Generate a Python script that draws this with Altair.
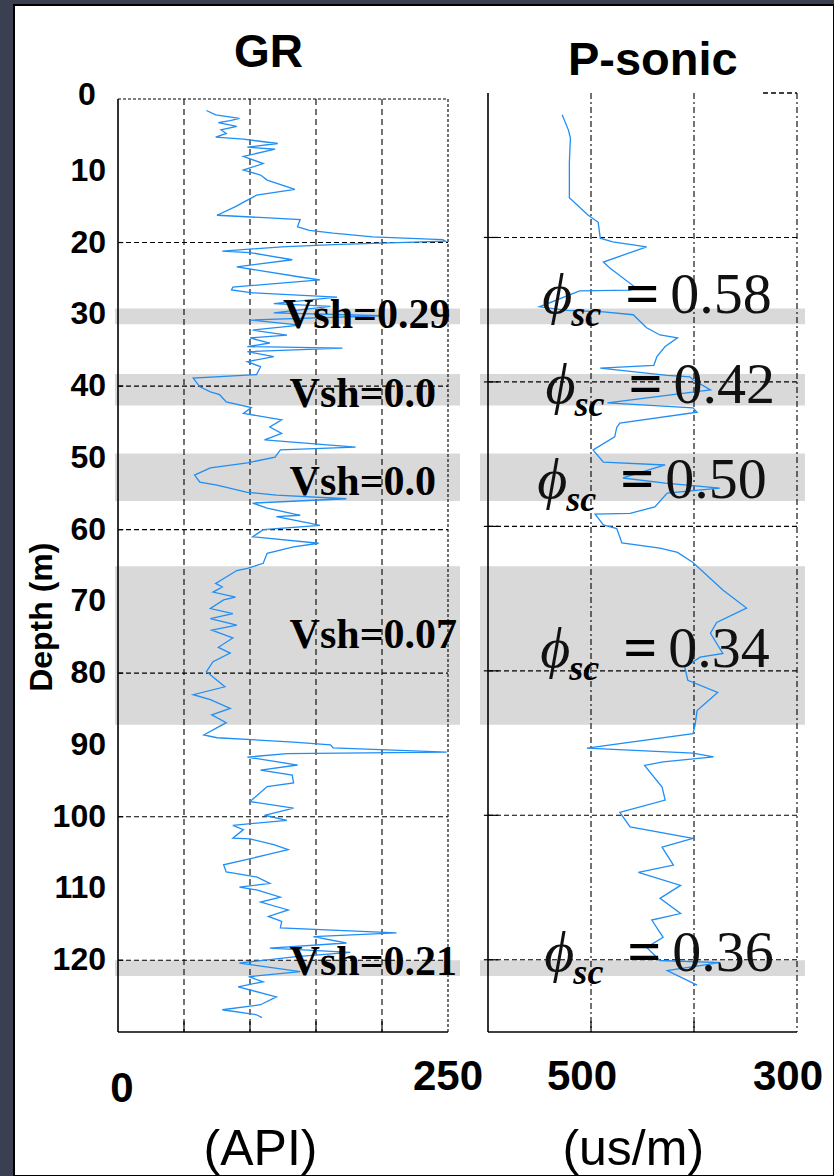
import altair as alt
import pandas as pd

# ---------------- data ----------------
gr_depth = [1.6, 2.2, 2.7, 3.0, 3.3, 3.8, 4.3, 4.8, 5.3, 5.6, 6.2, 6.7, 7.0, 8.0, 9.0, 9.9,
            10.6, 11.3, 12.6, 13.4, 14.1, 15.0, 16.2, 16.6, 16.8, 17.8, 18.3, 18.7, 19.2,
            19.6, 19.8, 20.3, 20.6, 21.2, 21.4, 22.4, 23.4, 24.8, 25.2, 26.2, 26.6, 27.0,
            27.6, 28.5, 28.9, 29.8, 30.2, 30.8, 31.5, 32.2, 32.9, 33.3, 34.0, 34.5, 34.7,
            35.2, 35.9, 36.6, 37.3, 38.4, 38.9, 40.1, 40.8, 41.2, 42.2, 43.0, 43.8, 44.7,
            45.7, 46.6, 47.5, 48.5, 48.9, 49.9, 50.7, 51.4, 52.4, 53.4, 53.8, 54.8, 55.2,
            55.7, 56.3, 57.0, 58.0, 58.2, 59.1, 59.4, 60.0, 61.0, 61.9, 62.4, 63.3, 64.7,
            65.4, 65.7, 66.6, 67.5, 68.0, 68.7, 69.4, 69.8, 71.0, 71.7, 72.4, 73.3, 74.0,
            75.1, 76.4, 77.2, 78.4, 79.8, 81.9, 83.0, 83.7, 84.9, 85.8, 86.9, 88.6, 89.0,
            89.6, 90.0, 90.4, 91.0, 91.2, 91.7, 92.8, 93.5, 94.2, 95.3, 95.8, 97.9, 98.8,
            99.8, 100.5, 101.2, 101.8, 103.0, 103.1, 103.9, 104.6, 105.3, 106.7, 107.7,
            108.4, 109.3, 109.8, 110.2, 111.2, 111.9, 113.0, 113.9, 114.6, 115.5, 116.2,
            116.7, 117.6, 118.3, 118.9, 119.5, 120.4, 121.6, 122.3, 123.0, 123.7, 125.1,
            126.2, 126.9, 127.6, 128.0]
gr_api = [67, 74, 92, 85, 76, 90, 78, 82, 74, 95, 121, 98, 119, 95, 110, 95,
          108, 113, 134, 105, 98, 89, 75, 118, 138, 136, 145, 163, 193,
          246, 248, 163, 124, 79, 100, 132, 90, 138, 153, 87, 86, 102,
          166, 118, 161, 118, 200, 100, 138, 102, 128, 100, 115, 98, 170,
          98, 118, 98, 108, 105, 57, 62, 70, 77, 82, 101, 95, 124,
          115, 124, 111, 180, 123, 119, 98, 70, 58, 62, 75, 98, 120,
          173, 102, 113, 138, 120, 145, 153, 110, 102, 152, 133, 113, 110,
          98, 90, 82, 74, 79, 72, 89, 80, 70, 87, 70, 90, 71,
          87, 76, 85, 72, 67, 81, 57, 70, 85, 71, 82, 65, 75,
          133, 161, 163, 249, 128, 98, 136, 108, 132, 133, 113, 100, 133,
          111, 128, 87, 95, 87, 100, 118, 129, 113, 80, 82,
          105, 115, 92, 105, 123, 108, 129, 114, 124, 123, 211,
          148, 173, 115, 176, 135, 92, 138, 99, 110, 91, 120,
          108, 79, 105, 109]

ps_depth = [3.0, 5.1, 6.2, 9.6, 14.5, 16.9, 17.9, 20.1, 20.6, 21.3, 23.4, 24.2, 26.9,
            27.3, 27.4, 29.6, 30.1, 30.3, 30.7, 32.5, 33.5, 33.9, 35.1, 36.5, 37.7,
            38.1, 39.1, 39.3, 39.7, 41.1, 42.9, 43.6, 44.2, 45.7, 46.3, 47.6, 49.4,
            51.1, 51.5, 53.3, 54.0, 54.7, 55.4, 57.3, 58.2, 58.3, 59.8, 60.3, 62.3,
            63.0, 63.6, 65.0, 68.8, 71.3, 73.3, 74.8, 77.6, 78.1, 79.5, 81.3, 83.0,
            85.5, 87.5, 88.7, 90.7, 91.4, 91.9, 92.6, 93.1, 96.1, 97.9, 99.6, 101.6,
            103.2, 104.4, 106.9, 107.9, 109.7, 111.5, 113.6, 114.5, 116.9, 118.3,
            120.1, 120.4, 121.5, 123.5]
ps_dt = [528, 522, 520, 521, 521, 503, 493, 491, 479, 446, 488, 482, 457,
         462, 511, 550, 523, 488, 459, 446, 433, 416, 428, 436, 439,
         491, 426, 404, 401, 384, 484, 401, 397, 472, 475, 477, 498,
         488, 428, 469, 428, 375, 426, 438, 462, 496, 488, 475, 470,
         433, 416, 401, 372, 349, 378, 384, 372, 394, 409, 406, 377,
         397, 399, 401, 504, 401, 381, 430, 448, 431, 428, 472, 462,
         401, 431, 420, 454, 413, 433, 413, 441, 430, 446,
         433, 375, 426, 397]

band_top = [29.2, 38.3, 49.4, 65.1, 120.0]
band_bottom = [31.4, 42.7, 56.0, 87.2, 122.2]

vsh_text = ["Vsh=0.29", "Vsh=0.0", "Vsh=0.0", "Vsh=0.07", "Vsh=0.21"]
vsh_depth = [31.9, 42.9, 55.2, 76.5, 122.1]
vsh_api = [125, 130, 130, 130, 130]

phi_text = ["0.58", "0.42", "0.50", "0.34", "0.36"]
phi_depth = [30.5, 42.9, 56.1, 79.5, 121.5]
phi_dt = [423, 420, 428, 425, 421]

depth_ticks = [0, 10, 20, 30, 40, 50, 60, 70, 80, 90, 100, 110, 120]
depth_grid = [20, 40, 60, 80, 100, 120]
gr_grid = [50, 100, 150, 200]
ps_grid = [500, 400, 300]
gr_tick_labels = ["0", "250"]
gr_tick_values = [0, 250]
ps_tick_labels = ["500", "300"]
ps_tick_values = [500, 300]

# ---------------- scales ----------------
XG = alt.Scale(domain=[0, 250], range=[104, 434], nice=False, zero=False)
YG = alt.Scale(domain=[0, 130], range=[94, 1027], nice=False, zero=False)
XP = alt.Scale(domain=[600, 300], range=[474, 783], nice=False, zero=False)
YP = alt.Scale(domain=[0, 130], range=[88, 1027], nice=False, zero=False)

SANS = "Liberation Sans"
SERIF = "Liberation Serif"
BLUE = "#1f8ef5"


def rules(df, xs, ys, width=1.2, dash=None):
    kw = dict(color="black", strokeWidth=width)
    if dash is not None:
        kw["strokeDash"] = dash
    return alt.Chart(df).mark_rule(**kw).encode(
        x=alt.X("x0:Q", scale=xs, axis=None), x2="x1:Q",
        y=alt.Y("y0:Q", scale=ys, axis=None), y2="y1:Q")


def seg(x0, x1, y0, y1):
    return pd.DataFrame({"x0": x0, "x1": x1, "y0": y0, "y1": y1})


layers = []

# shaded intervals
bands = pd.DataFrame({"top": band_top, "bottom": band_bottom})
for xa, xb in [(101, 446), (466, 791)]:
    layers.append(alt.Chart(bands).mark_rect(color="#d9d9d9").encode(
        x=alt.value(xa), x2=alt.value(xb),
        y=alt.Y("top:Q", scale=YG, axis=None), y2="bottom:Q"))

# ---- GR panel frame & grid ----
layers.append(rules(seg(gr_grid, gr_grid, [0] * 4, [130] * 4), XG, YG, 1.1, [6, 4]))
layers.append(rules(seg([0] * 6, [250] * 6, depth_grid, depth_grid), XG, YG, 1.1, [5, 3]))
layers.append(rules(seg([0], [250], [0], [0]), XG, YG, 1.1, [3, 2]))
layers.append(rules(seg([250], [250], [0], [130]), XG, YG, 1.1, [3, 2]))
layers.append(rules(seg([0, 0], [0, 250], [0, 130], [130, 130]), XG, YG, 1.6))
layers.append(rules(seg(gr_grid, gr_grid, [130] * 4, [128.5] * 4), XG, YG, 1.2))
layers.append(rules(seg([0] * 6, [4] * 6, depth_grid, depth_grid), XG, YG, 1.2))

# ---- P-sonic panel frame & grid ----
layers.append(rules(seg(ps_grid, ps_grid, [0] * 3, [130] * 3), XP, YP, 1.1, [6, 3, 2, 3]))
layers.append(rules(seg([600] * 6, [300] * 6, depth_grid, depth_grid), XP, YP, 1.1, [5, 3]))
layers.append(rules(seg([333], [300], [0], [0]), XP, YP, 1.4, [5, 3]))
layers.append(rules(seg([600, 600], [600, 300], [0, 130], [130, 130]), XP, YP, 1.6))
layers.append(rules(seg([500, 400], [500, 400], [130, 130], [128.5, 128.5]), XP, YP, 1.2))
layers.append(rules(seg([604] * 6, [590] * 6, depth_grid, depth_grid), XP, YP, 1.2))

# ---- curves ----
gr_df = pd.DataFrame({"depth": gr_depth, "api": gr_api, "i": range(len(gr_depth))})
layers.append(alt.Chart(gr_df).mark_line(color=BLUE, strokeWidth=1.3).encode(
    x=alt.X("api:Q", scale=XG, axis=None),
    y=alt.Y("depth:Q", scale=YG, axis=None),
    order="i:Q"))
ps_df = pd.DataFrame({"depth": ps_depth, "dt": ps_dt, "i": range(len(ps_depth))})
layers.append(alt.Chart(ps_df).mark_line(color=BLUE, strokeWidth=1.3).encode(
    x=alt.X("dt:Q", scale=XP, axis=None),
    y=alt.Y("depth:Q", scale=YP, axis=None),
    order="i:Q"))

# ---- Vsh annotations ----
vsh_df = pd.DataFrame({"t": vsh_text, "depth": vsh_depth, "api": vsh_api})
layers.append(alt.Chart(vsh_df).mark_text(
    font=SERIF, fontWeight="bold", fontSize=42, align="left",
    baseline="alphabetic", color="black").encode(
    x=alt.X("api:Q", scale=XG, axis=None),
    y=alt.Y("depth:Q", scale=YG, axis=None), text="t:N"))

# ---- phi_sc annotations ----
phi_df = pd.DataFrame({"t": phi_text, "depth": phi_depth, "dt": phi_dt})
phi_enc = dict(x=alt.X("dt:Q", scale=XP, axis=None), y=alt.Y("depth:Q", scale=YP, axis=None))
layers.append(alt.Chart(phi_df).mark_text(
    text="ϕ", font=SERIF, fontStyle="italic", fontSize=58, align="left",
    baseline="alphabetic", dx=-128, color="#111111").encode(**phi_enc))
layers.append(alt.Chart(phi_df).mark_text(
    text="sc", font=SERIF, fontStyle="italic", fontWeight="bold", fontSize=36,
    align="left", baseline="alphabetic", dx=-99, dy=13, color="black").encode(**phi_enc))
layers.append(alt.Chart(phi_df).mark_text(
    text="=", font=SERIF, fontWeight="bold", fontSize=60, align="left",
    baseline="alphabetic", dx=-45, color="black").encode(**phi_enc))
layers.append(alt.Chart(phi_df).mark_text(
    font=SERIF, fontSize=58, align="left", baseline="alphabetic",
    color="#111111").encode(text="t:N", **phi_enc))

# ---- axis labels / titles ----
dl = pd.DataFrame({"d": depth_ticks, "lab": [str(v) for v in depth_ticks]})
layers.append(alt.Chart(dl[dl.d > 0]).mark_text(
    font=SANS, fontWeight="bold", fontSize=32, align="right", baseline="middle",
    color="black").encode(y=alt.Y("d:Q", scale=YG, axis=None), x=alt.value(92), text="lab:N"))
layers.append(alt.Chart(dl[dl.d == 0]).mark_text(
    font=SANS, fontWeight="bold", fontSize=32, align="center", baseline="middle",
    dy=-4, color="black").encode(y=alt.Y("d:Q", scale=YG, axis=None), x=alt.value(73), text="lab:N"))

layers.append(alt.Chart(pd.DataFrame({"d": [72.2], "t": ["Depth (m)"]})).mark_text(
    font=SANS, fontWeight="bold", fontSize=32, angle=270, align="center",
    baseline="middle", color="black").encode(
    y=alt.Y("d:Q", scale=YG, axis=None), x=alt.value(28), text="t:N"))

g0 = pd.DataFrame({"v": gr_tick_values[:1], "t": gr_tick_labels[:1]})
g1 = pd.DataFrame({"v": gr_tick_values[1:], "t": gr_tick_labels[1:]})
layers.append(alt.Chart(g0).mark_text(
    font=SANS, fontWeight="bold", fontSize=42, align="center", baseline="alphabetic",
    dx=4, color="black").encode(x=alt.X("v:Q", scale=XG, axis=None), y=alt.value(1097), text="t:N"))
layers.append(alt.Chart(g1).mark_text(
    font=SANS, fontWeight="bold", fontSize=42, align="center", baseline="alphabetic",
    color="black").encode(x=alt.X("v:Q", scale=XG, axis=None), y=alt.value(1085), text="t:N"))
pl = pd.DataFrame({"v": ps_tick_values, "t": ps_tick_labels})
layers.append(alt.Chart(pl).mark_text(
    font=SANS, fontWeight="bold", fontSize=42, align="center", baseline="alphabetic",
    dx=-9, color="black").encode(x=alt.X("v:Q", scale=XP, axis=None), y=alt.value(1085), text="t:N"))

layers.append(alt.Chart(pd.DataFrame({"v": [114], "t": ["GR"]})).mark_text(
    font=SANS, fontWeight="bold", fontSize=46, align="center", baseline="alphabetic",
    color="black").encode(x=alt.X("v:Q", scale=XG, axis=None), y=alt.value(62), text="t:N"))
layers.append(alt.Chart(pd.DataFrame({"v": [440], "t": ["P-sonic"]})).mark_text(
    font=SANS, fontWeight="bold", fontSize=47, align="center", baseline="alphabetic",
    color="black").encode(x=alt.X("v:Q", scale=XP, axis=None), y=alt.value(70), text="t:N"))

layers.append(alt.Chart(pd.DataFrame({"v": [108], "t": ["(API)"]})).mark_text(
    font=SANS, fontSize=50, align="center", baseline="alphabetic",
    color="black").encode(x=alt.X("v:Q", scale=XG, axis=None), y=alt.value(1160), text="t:N"))
layers.append(alt.Chart(pd.DataFrame({"v": [459], "t": ["(us/m)"]})).mark_text(
    font=SANS, fontSize=50, align="center", baseline="alphabetic",
    color="black").encode(x=alt.X("v:Q", scale=XP, axis=None), y=alt.value(1160), text="t:N"))

chart = alt.layer(*layers).resolve_scale(x="independent", y="independent").properties(
    width=820, height=1171,
    autosize=alt.AutoSizeParams(type="none"),
    padding={"left": 14, "top": 5, "right": 0, "bottom": 0},
    background="#3a4051",
).configure_view(fill="white", stroke="black", strokeWidth=2)

chart.save("out.html", embed_options={"renderer": "svg", "actions": False})
